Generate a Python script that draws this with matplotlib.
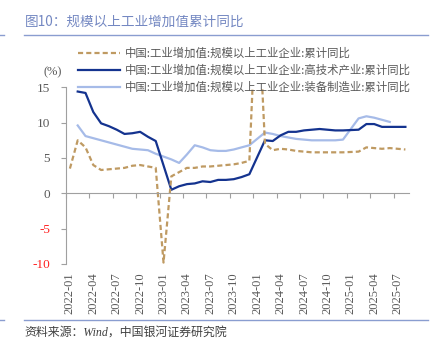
import numpy as np
import matplotlib
matplotlib.use("Agg")
import matplotlib.pyplot as plt
from matplotlib.lines import Line2D

plt.rcParams['font.family'] = ['Noto Sans CJK SC', 'DejaVu Sans']

months = [f"{y}-{m:02d}" for y in range(2022, 2026) for m in range(1, 13)][:44]

total = [3.5, 7.5, 6.5, 4.0, 3.3, 3.4, 3.5, 3.6, 3.9, 4.0, 3.8, 3.6,
         -9.8, 2.4, 3.0, 3.6, 3.6, 3.8, 3.8, 3.9, 4.0, 4.1, 4.3, 4.6,
         30.0, 7.0, 6.1, 6.3, 6.2, 6.0, 5.9, 5.8, 5.8, 5.8, 5.8, 5.8,
         None, 5.9, 6.5, 6.4, 6.3, 6.4, 6.3, 6.2]
hightech = [None, 14.4, 14.2, 11.5, 9.9, 9.5, 9.0, 8.4, 8.5, 8.7, 8.0, 7.4,
            None, 0.5, 1.0, 1.3, 1.4, 1.7, 1.6, 1.9, 1.9, 2.0, 2.3, 2.7,
            None, 7.5, 7.4, 8.2, 8.7, 8.7, 8.9, 9.0, 9.1, 9.0, 8.9, 8.9,
            None, 9.0, 9.8, 9.8, 9.4, 9.4, 9.4, 9.4]
equip = [None, 9.6, 8.1, 7.8, 7.5, 7.2, 6.9, 6.6, 6.3, 6.2, 6.1, 5.6,
         None, 4.8, 4.3, 5.5, 6.8, 6.5, 6.1, 6.0, 6.0, 6.2, 6.5, 6.8,
         None, 8.6, 8.4, 8.1, 7.9, 7.7, 7.6, 7.5, 7.5, 7.5, 7.5, 7.6,
         None, 10.6, 10.9, 10.7, 10.4, 10.1, None, None]

labels = ["中国:工业增加值:规模以上工业企业:累计同比",
          "中国:工业增加值:规模以上工业企业:高技术产业:累计同比",
          "中国:工业增加值:规模以上工业企业:装备制造业:累计同比"]
yticks = [-10, -5, 0, 5, 10, 15]

c_total = '#bf9a62'
c_high = '#14338f'
c_equip = '#a6bbe8'
grey = '#595959'
axis_grey = '#a0a0a0'

fig = plt.figure(figsize=(4.4, 3.46), dpi=100)
ax = fig.add_axes([66/440, 1-264/346, (409.3-66)/440, (264-87.3)/346])

x = np.arange(len(months))

def clean(vals):
    arr = np.array([np.nan if v is None else v for v in vals], dtype=float)
    m = ~np.isnan(arr)
    return x[m], arr[m]

xt, yt = clean(total)
xh, yh = clean(hightech)
xe, ye = clean(equip)
ax.plot(xe, ye, color=c_equip, lw=1.6, solid_joinstyle='round')
ax.plot(xh, yh, color=c_high, lw=1.6, solid_joinstyle='round')
ax.plot(xt, yt, color=c_total, lw=1.6, linestyle=(0, (2.3, 1.4)))

ax.set_xlim(-0.5, len(months) - 0.5)
ax.set_ylim(-10, 15)

for s in ['top', 'right']:
    ax.spines[s].set_visible(False)
ax.spines['left'].set_color(axis_grey)
ax.spines['bottom'].set_color(axis_grey)
ax.spines['bottom'].set_position(('data', 0))
ax.set_yticks(yticks)
ax.set_yticklabels([str(v) for v in yticks], family='Liberation Serif', fontsize=9.5)
for lab, v in zip(ax.get_yticklabels(), yticks):
    lab.set_color('#ff2020' if v < 0 else grey)
ax.tick_params(axis='y', length=3.5, color=axis_grey, pad=8)

tick_idx = np.arange(0, len(months), 3)
ax.set_xticks(tick_idx - 0.5)
ax.tick_params(axis='x', length=3.5, color=axis_grey, labelbottom=False)

sec = ax.secondary_xaxis(0.0)
sec.set_xticks(tick_idx)
sec.set_xticklabels([months[i] for i in tick_idx], rotation=90,
                    family='Liberation Serif', fontsize=9, color=grey)
sec.tick_params(length=0, pad=6)
sec.spines['bottom'].set_visible(False)

handles = [Line2D([], [], color=c_total, lw=1.6, linestyle=(0, (2.3, 1.4))),
           Line2D([], [], color=c_high, lw=1.6),
           Line2D([], [], color=c_equip, lw=1.6)]
fig.legend(handles, labels, loc='upper left', bbox_to_anchor=(78/440, 1-47.5/346),
           frameon=False, fontsize=8.2, handlelength=3.7, handletextpad=0.4,
           labelspacing=0.5, borderaxespad=0, borderpad=0, labelcolor=grey)

fig.text(53/440, 1-72/346, "(%)", family='Liberation Serif', fontsize=9,
         color=grey, ha='center', va='center')

fig.text(25/440, 1-22/346, "图10：规模以上工业增加值累计同比", fontsize=9.8,
         color='#7488c2', ha='left', va='center')
fig.add_artist(Line2D([24/440, 428/440], [1-35/346, 1-35/346], color='#8a9dd0', lw=1.0))
fig.add_artist(Line2D([0, 4/440], [1-35/346, 1-35/346], color='#8a9dd0', lw=1.0))
fig.add_artist(Line2D([24/440, 428/440], [1-320/346, 1-320/346], color='#8a9dd0', lw=1.0))
fig.add_artist(Line2D([0, 4/440], [1-320/346, 1-320/346], color='#8a9dd0', lw=1.0))
fig.text(24/440, 1-333/346, "资料来源：Wind，中国银河证券研究院", fontsize=8.6,
         family=['Liberation Serif', 'Noto Sans CJK SC'], style='italic',
         color='#404040', ha='left', va='center')

fig.savefig("out.png", dpi=100)
